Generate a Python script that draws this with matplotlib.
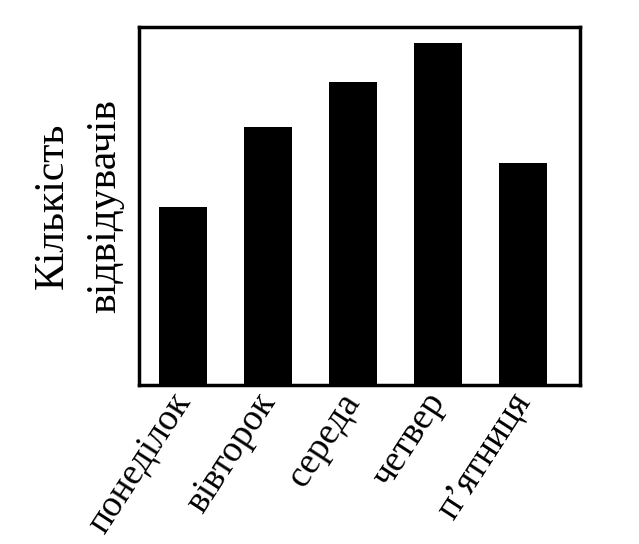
import matplotlib
matplotlib.use('Agg')
import matplotlib.pyplot as plt

# ===== Data ===== #
days = ['понеділок', 'вівторок', 'середа', 'четвер', 'п’ятниця']
visitors = [49.7, 72.0, 84.6, 95.5, 62.0]

plt.rcParams['font.family'] = ['Liberation Serif', 'DejaVu Serif']

fig = plt.figure(figsize=(6.39, 5.44), dpi=100)
ax = fig.add_axes([0.2175, 0.2923, 0.6902, 0.6581])

x = range(len(days))
ax.bar(x, visitors, width=0.56, color='black')

ax.set_xlim(-0.52, 4.67)
ax.set_ylim(0, 100)

# no tick marks, only rotated day names
ax.set_xticks(list(x))
ax.set_xticklabels(days, rotation=57, ha='right', va='center',
                   rotation_mode='anchor', fontsize=27)
ax.tick_params(axis='x', length=0, pad=8)
ax.set_yticks([])

for side in ax.spines.values():
    side.set_linewidth(2.5)
    side.set_color('black')

ax.set_ylabel('Кількість\nвідвідувачів', fontsize=30, linespacing=1.45,
              labelpad=11)

fig.savefig('out.png', dpi=100)
